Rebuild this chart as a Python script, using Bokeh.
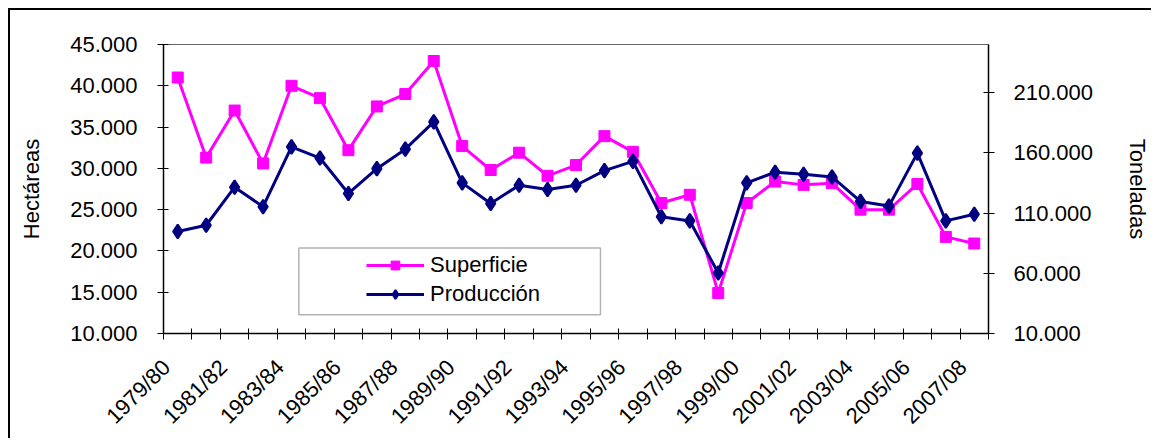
import numpy as np
from bokeh.plotting import figure
from bokeh.models import (Range1d, LinearAxis, FixedTicker, Legend, LegendItem,
                          BoxAnnotation)
from bokeh.embed import file_html
from bokeh.resources import INLINE

# ---------------- data ----------------
categories = ["1979/80", "1980/81", "1981/82", "1982/83", "1983/84", "1984/85",
              "1985/86", "1986/87", "1987/88", "1988/89", "1989/90", "1990/91",
              "1991/92", "1992/93", "1993/94", "1994/95", "1995/96", "1996/97",
              "1997/98", "1998/99", "1999/00", "2000/01", "2001/02", "2002/03",
              "2003/04", "2004/05", "2005/06", "2006/07", "2007/08"]
superficie = [41000, 31300, 37000, 30600, 40000, 38500, 32200, 37500, 39000, 43000,
              32700, 29800, 31900, 29100, 30400, 33900, 32000, 25800, 26800, 14900,
              25800, 28400, 28000, 28200, 25000, 25000, 28100, 21700, 20900]
produccion = [94700, 99900, 131500, 115300, 165000, 155700, 126300, 146900, 163100, 185700,
              135100, 118000, 133100, 129600, 133100, 145300, 152900, 107000, 103500, 60300,
              135100, 143900, 142200, 140000, 119700, 115800, 159800, 103500, 109000]
left_ticks = [10000, 15000, 20000, 25000, 30000, 35000, 40000, 45000]
right_ticks = [10000, 60000, 110000, 160000, 210000]
left_range = (10000, 45000)
right_range = (10000, 250000)

FONT = "Liberation Sans"
FS = "22px"
PINK = "#FF00FF"
NAVY = "#000080"

n = len(categories)
x = [i + 0.5 for i in range(n)]

def fmt(v):
    return f"{v:,}".replace(",", ".")

p = figure(width=1143, height=430, output_backend="svg", toolbar_location=None,
           x_range=Range1d(0, n), y_range=Range1d(*left_range),
           min_border_left=153, min_border_right=161, min_border_top=34,
           min_border_bottom=105, background_fill_color="white",
           border_fill_color="white")
p.styles = {"margin-left": "8px", "margin-top": "8px",
            "border-left": "2px solid black", "border-top": "2px solid black"}
p.extra_y_ranges = {"ton": Range1d(*right_range)}
p.grid.visible = False
p.outline_line_color = "#666666"
p.outline_line_width = 1

# bottom axis: boundary ticks, rotated labels for every second season
LABEL_SHIFT = 0.4  # labels sit slightly left of the category centre
xa = p.xaxis[0]
lab_pos = [i + 0.5 - LABEL_SHIFT for i in range(0, n, 2)]
xa.ticker = FixedTicker(ticks=lab_pos, minor_ticks=list(range(n + 1)))
xa.major_label_overrides = {pos: categories[i]
                            for pos, i in zip(lab_pos, range(0, n, 2))}
xa.major_label_orientation = np.pi / 4
xa.major_tick_in = 0
xa.major_tick_out = 0
xa.minor_tick_in = 5
xa.minor_tick_out = 6
xa.minor_tick_line_color = "black"
xa.major_label_standoff = 24

# left axis
ya = p.yaxis[0]
ya.ticker = FixedTicker(ticks=left_ticks, minor_ticks=[])
ya.major_label_overrides = {v: fmt(v) for v in left_ticks}
ya.major_tick_in = 5
ya.major_tick_out = 6
ya.minor_tick_line_color = None
ya.major_label_standoff = 20
ya.axis_label = "Hectáreas"
ya.axis_label_standoff = 23

# right axis
ra = LinearAxis(y_range_name="ton",
                ticker=FixedTicker(ticks=right_ticks, minor_ticks=[]))
ra.major_label_overrides = {v: fmt(v) for v in right_ticks}
ra.major_tick_in = 5
ra.major_tick_out = 6
ra.minor_tick_line_color = None
ra.major_label_standoff = 19
ra.axis_label = "Toneladas"
ra.axis_label_standoff = 29
p.add_layout(ra, "right")

for ax in (xa, ya, ra):
    ax.axis_line_color = "black"
    ax.axis_line_width = 1.5
    ax.major_tick_line_color = "black"
    ax.major_tick_line_width = 1
    ax.major_label_text_font = FONT
    ax.major_label_text_font_size = FS
    ax.major_label_text_color = "black"
    ax.axis_label_text_font = FONT
    ax.axis_label_text_font_size = FS
    ax.axis_label_text_font_style = "normal"
    ax.axis_label_text_color = "black"

# series
l1 = p.line(x, superficie, line_color=PINK, line_width=3)
s1 = p.scatter(x, superficie, marker="square", size=11, fill_color=PINK,
               line_color=PINK)
l2 = p.line(x, produccion, line_color=NAVY, line_width=3, y_range_name="ton")
s2 = p.scatter(x, produccion, marker="diamond", size=14, fill_color=NAVY,
               line_color=NAVY, line_width=2, y_range_name="ton")

# legend frame
box = BoxAnnotation(left=4.757, right=15.36, bottom=12285, top=20343,
                    fill_color="white", fill_alpha=1, line_color="black",
                    line_width=1.5, level="underlay")
p.add_layout(box)

legend = Legend(items=[LegendItem(label="Superficie", renderers=[l1, s1]),
                       LegendItem(label="Producción", renderers=[l2, s2])],
                location=(203, 26), padding=0, margin=0, border_line_alpha=0,
                background_fill_alpha=0, glyph_width=58, glyph_height=22,
                label_standoff=6, spacing=3, label_text_font=FONT,
                label_text_font_size=FS, label_text_color="black")
p.add_layout(legend)

open("out.html", "w").write(file_html(p, INLINE))
